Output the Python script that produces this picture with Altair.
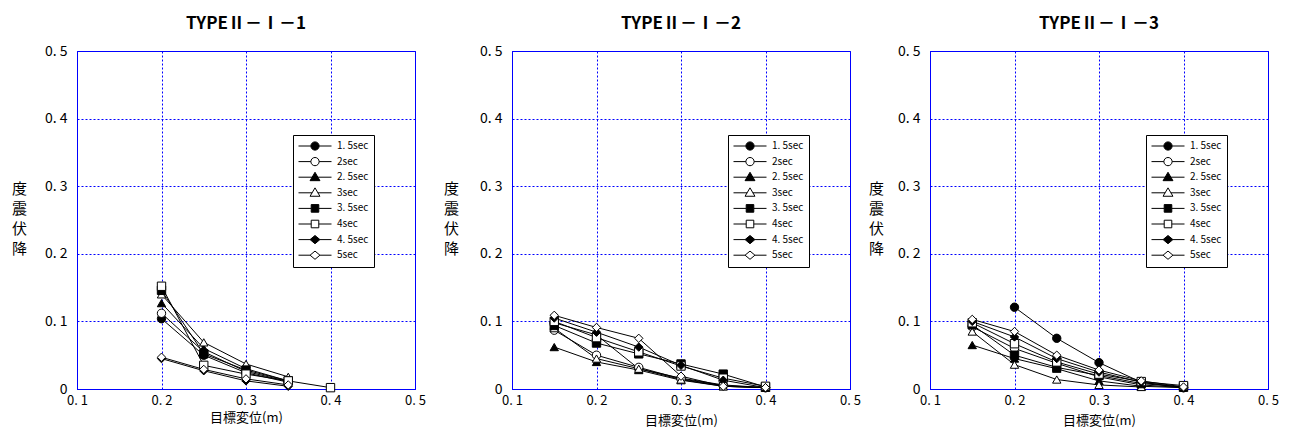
import altair as alt
import pandas as pd

series_names = ["1.5sec", "2sec", "2.5sec", "3sec", "3.5sec", "4sec", "4.5sec", "5sec"]
marker_shapes = ["circle", "circle", "triangle-up", "triangle-up", "square", "square", "diamond", "diamond"]
marker_fills = ["black", "white", "black", "white", "black", "white", "black", "white"]
marker_strokes = ["black"] * 8
legend_paths = [
    "M-1,0H-0.25M0.25,0H1M-0.25,0A0.25,0.25,0,1,1,0.25,0A0.25,0.25,0,1,1,-0.25,0Z",
    "M-1,0H-0.25M0.25,0H1M-0.25,0A0.25,0.25,0,1,1,0.25,0A0.25,0.25,0,1,1,-0.25,0Z",
    "M-1,0H-0.17M0.17,0H1M0,-0.3L0.3,0.21H-0.3Z",
    "M-1,0H-0.17M0.17,0H1M0,-0.3L0.3,0.21H-0.3Z",
    "M-1,0H-0.23M0.23,0H1M-0.23,-0.23H0.23V0.23H-0.23Z",
    "M-1,0H-0.23M0.23,0H1M-0.23,-0.23H0.23V0.23H-0.23Z",
    "M-1,0H-0.3M0.3,0H1M0,-0.25L0.3,0L0,0.25L-0.3,0Z",
    "M-1,0H-0.3M0.3,0H1M0,-0.25L0.3,0L0,0.25L-0.3,0Z",
]

panel_titles = ["TYPEⅡ－Ⅰ－1", "TYPEⅡ－Ⅰ－2", "TYPEⅡ－Ⅰ－3"]
x_ticks = [0.1, 0.2, 0.3, 0.4, 0.5]
y_ticks = [0.0, 0.1, 0.2, 0.3, 0.4, 0.5]

# Panel 1
x_p1 = [0.2, 0.25, 0.3, 0.35, 0.4]
p1_values = {
    "1.5sec": [0.104, 0.050, 0.024, 0.010, None],
    "2sec":   [0.112, 0.055, 0.026, 0.011, None],
    "2.5sec": [0.127, 0.060, 0.030, 0.012, None],
    "3sec":   [0.140, 0.069, 0.037, 0.018, None],
    "3.5sec": [0.146, 0.052, 0.028, 0.012, None],
    "4sec":   [0.152, 0.035, 0.022, 0.012, 0.002],
    "4.5sec": [0.045, 0.027, 0.012, 0.004, None],
    "5sec":   [0.047, 0.029, 0.015, 0.006, None],
}

# Panel 2
x_p2 = [0.15, 0.2, 0.25, 0.3, 0.35, 0.4]
p2_values = {
    "1.5sec": [0.098, 0.080, 0.030, 0.016, 0.006, 0.002],
    "2sec":   [0.087, 0.050, 0.032, 0.015, 0.005, 0.002],
    "2.5sec": [0.062, 0.040, 0.028, 0.013, 0.004, 0.002],
    "3sec":   [0.090, 0.045, 0.030, 0.014, 0.004, 0.002],
    "3.5sec": [0.094, 0.068, 0.052, 0.037, 0.022, 0.003],
    "4sec":   [0.100, 0.076, 0.055, 0.034, 0.016, 0.004],
    "4.5sec": [0.105, 0.084, 0.062, 0.035, 0.013, 0.002],
    "5sec":   [0.109, 0.091, 0.075, 0.019, 0.004, 0.002],
}

# Panel 3
x_p3 = [0.15, 0.2, 0.25, 0.3, 0.35, 0.4]
p3_values = {
    "1.5sec": [None, 0.121, 0.075, 0.039, 0.010, 0.002],
    "2sec":   [0.092, 0.060, 0.038, 0.018, 0.006, 0.002],
    "2.5sec": [0.065, 0.045, 0.030, 0.012, 0.004, 0.002],
    "3sec":   [0.085, 0.036, 0.014, 0.006, 0.003, None],
    "3.5sec": [0.095, 0.050, 0.032, 0.020, 0.008, 0.003],
    "4sec":   [0.098, 0.067, 0.040, 0.022, 0.011, 0.005],
    "4.5sec": [0.100, 0.077, 0.045, 0.025, 0.010, 0.002],
    "5sec":   [0.103, 0.085, 0.050, 0.028, 0.012, 0.003],
}

FONT = "Noto Sans CJK JP"


def to_frame(xs, values):
    rows = []
    for s in series_names:
        for xv, yv in zip(xs, values[s]):
            if yv is not None:
                rows.append({"x": xv, "y": yv, "series": s})
    return pd.DataFrame(rows)


def panel(df, title, ytitle_x, xtitle_pad):
    base = alt.Chart(df)
    xenc = alt.X(
        "x:Q",
        scale=alt.Scale(domain=[0.1, 0.5], nice=False, zero=False),
        axis=alt.Axis(
            values=x_ticks,
            labelExpr="replace(format(datum.value, '.1f'), '.', '. ')",
            labelFlush=False,
            labelFontSize=13,
            title="目標変位(m)",
            titlePadding=xtitle_pad,
            labelPadding=5,
        ),
    )
    yenc = alt.Y(
        "y:Q",
        scale=alt.Scale(domain=[0, 0.5], nice=False),
        axis=alt.Axis(
            values=y_ticks,
            labelExpr="datum.value == 0 ? '0' : replace(format(datum.value, '.1f'), '.', '. ')",
            labelFlush=False,
            title=["度", "震", "伏", "降"],
            titleAngle=0,
            titleX=ytitle_x,
            titleY=137,
            titleAlign="center",
            titleBaseline="middle",
            titleLineHeight=20,
            titleFontSize=15,
            labelPadding=10,
        ),
    )
    lines = base.mark_line(color="black", strokeWidth=1).encode(
        x=xenc, y=yenc, detail="series:N", order="x:Q"
    )
    pts = base.mark_point(filled=True, size=70, stroke="black", strokeWidth=1, opacity=1).encode(
        x="x:Q",
        y="y:Q",
        shape=alt.Shape("series:N", scale=alt.Scale(domain=series_names, range=marker_shapes), legend=None),
        fill=alt.Fill("series:N", scale=alt.Scale(domain=series_names, range=marker_fills), legend=None),
    )
    leg_opts = dict(
        orient="none",
        legendX=216,
        legendY=84,
        title=None,
        fillColor="white",
        strokeColor="black",
        padding=5,
        labelFont=FONT,
        labelFontSize=10,
        labelExpr="replace(datum.label, '.', '. ')",
        symbolSize=1089,
        symbolStrokeWidth=1,
        clipHeight=12,
        rowPadding=3.6,
        labelOffset=5,
    )
    leg = base.transform_filter("false").mark_point(
        filled=True, strokeWidth=1, opacity=1
    ).encode(
        shape=alt.Shape("series:N", scale=alt.Scale(domain=series_names, range=legend_paths),
                        legend=alt.Legend(**leg_opts)),
        fill=alt.Fill("series:N", scale=alt.Scale(domain=series_names, range=marker_fills),
                      legend=alt.Legend(**leg_opts)),
        stroke=alt.Stroke("series:N", scale=alt.Scale(domain=series_names, range=marker_strokes),
                          legend=alt.Legend(**leg_opts)),
    )
    return (
        alt.layer(lines, pts, leg)
        .resolve_scale(shape="independent", fill="independent", stroke="independent")
        .properties(
            width=338,
            height=338,
            title=alt.TitleParams(title, fontSize=17, fontWeight="bold", font=FONT,
                                  offset=11, frame="group", anchor="middle"),
        )
    )


c1 = panel(to_frame(x_p1, p1_values), panel_titles[0], -58, 4)
c2 = panel(to_frame(x_p2, p2_values), panel_titles[1], -61, 7)
c3 = panel(to_frame(x_p3, p3_values), panel_titles[2], -54, 7)

chart = (
    alt.hconcat(alt.hconcat(c1, c2, spacing=16), c3, spacing=6)
    .properties(padding={"left": 2, "top": 6, "right": 0, "bottom": 0})
    .configure_view(stroke="#0000ff", strokeWidth=1)
    .configure_axis(
        labelFont=FONT,
        titleFont=FONT,
        labelFontSize=14,
        titleFontSize=13,
        titleFontWeight="normal",
        labelColor="black",
        titleColor="black",
        domainColor="#0000ff",
        gridColor="#0000ff",
        gridDash=[2, 2],
        gridOpacity=1,
        gridWidth=1,
        ticks=False,
    )
)

chart.save("out.html", embed_options={"renderer": "svg", "actions": False})
